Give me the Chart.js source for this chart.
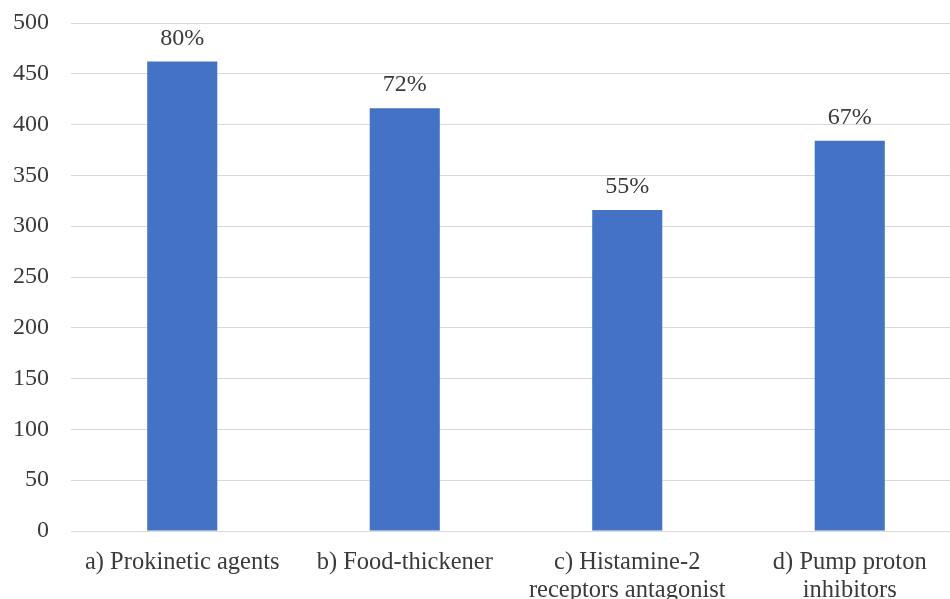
<!DOCTYPE html>
<html>
<head>
<meta charset="utf-8">
<script src="https://cdn.jsdelivr.net/npm/chart.js@4/dist/chart.umd.min.js"></script>
<style>
html,body{margin:0;padding:0;background:#fff;overflow:hidden;}
#wrap{width:950px;height:599px;overflow:hidden;}
canvas{display:block;}
</style>
</head>
<body>
<div id="wrap"><canvas id="c" width="961" height="599"></canvas></div>
<script>
const categories = [
  "a) Prokinetic agents",
  "b) Food-thickener",
  ["c) Histamine-2", "receptors antagonist"],
  ["d) Pump proton", "inhibitors"]
];
const values = [462, 416, 316, 384];
const percentLabels = ["80%", "72%", "55%", "67%"];
const yTicks = { min: 0, max: 500, step: 50 };

const textColor = "#3b3b3b";
const fontFamily = "'Liberation Serif', 'Times New Roman', serif";

const labelPlugin = {
  id: "barLabels",
  afterDatasetsDraw(chart) {
    const ctx = chart.ctx;
    const meta = chart.getDatasetMeta(0);
    ctx.save();
    ctx.font = "24px " + fontFamily;
    ctx.fillStyle = textColor;
    ctx.textAlign = "center";
    ctx.textBaseline = "alphabetic";
    meta.data.forEach((bar, i) => {
      ctx.fillText(percentLabels[i], bar.x, bar.y - 17);
    });
    ctx.restore();
  }
};

new Chart(document.getElementById("c"), {
  type: "bar",
  data: {
    labels: categories,
    datasets: [{
      data: values,
      backgroundColor: "#4472C4",
      borderWidth: 0,
      barPercentage: 0.315,
      categoryPercentage: 1.0
    }]
  },
  options: {
    responsive: false,
    animation: false,
    devicePixelRatio: 1,
    layout: { padding: { top: 23, right: 0, left: 0, bottom: 0 } },
    plugins: { legend: { display: false }, tooltip: { enabled: false } },
    scales: {
      x: {
        grid: { display: false, drawTicks: false },
        border: { display: true, color: "#d9d9d9", width: 1 },
        ticks: {
          color: textColor,
          font: { family: fontFamily, size: 24.5, lineHeight: 1.15 },
          padding: 17,
          maxRotation: 0,
          autoSkip: false
        },
        afterFit(scale) { scale.height = 68; scale.paddingLeft = 0; scale.paddingRight = 0; }
      },
      y: {
        min: yTicks.min,
        max: yTicks.max,
        grid: { color: "#d9d9d9", lineWidth: 1, drawTicks: false },
        border: { display: false },
        ticks: {
          stepSize: yTicks.step,
          color: textColor,
          font: { family: fontFamily, size: 24 },
          padding: 22
        },
        afterFit(scale) { scale.width = 71; scale.paddingTop = 0; scale.paddingBottom = 0; }
      }
    }
  },
  plugins: [labelPlugin]
});
</script>
</body>
</html>
